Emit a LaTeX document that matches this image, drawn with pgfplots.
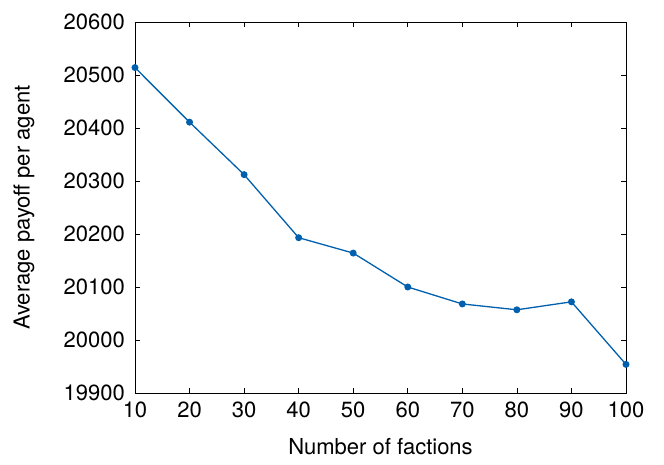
\documentclass[border=0pt]{standalone}
\usepackage{pgfplots}
\pgfplotsset{compat=1.18}
\usepackage{fontspec}
\setmainfont{TeX Gyre Heros}
\definecolor{gpblue}{RGB}{0,96,173}
\begin{document}
\begin{tikzpicture}
\useasboundingbox (-135pt,-72pt) rectangle (529pt,393pt);
\begin{axis}[
  at={(0,0)}, anchor=south west,
  scale only axis, width=491pt, height=371pt,
  xmin=10, xmax=100, ymin=19900, ymax=20600,
  xtick={10,20,...,100}, ytick={19900,20000,...,20600},
  scaled ticks=false,
  tick align=inside, major tick length=5pt,
  tick style={black, line width=0.6pt},
  axis line style={line width=0.8pt},
  /pgf/number format/assume math mode=true,
  /pgf/number format/set thousands separator={},
  /pgf/number format/fixed,
  font=\fontsize{22}{26}\selectfont,
  xticklabel style={inner sep=0pt, yshift=-9pt},
  yticklabel style={inner sep=0pt, xshift=-10pt},
  xlabel={Number of factions},
  ylabel={Average payoff per agent},
  every axis x label/.style={at={(axis description cs:0.5,0)}, yshift=-54pt, anchor=center},
  every axis y label/.style={at={(axis description cs:0,0.5)}, xshift=-111pt, rotate=90, anchor=center},
]
\addplot[color=gpblue, line width=1.3pt, mark=*, mark size=2.8pt] coordinates {
(10,20514) (20,20411) (30,20312) (40,20193) (50,20164) (60,20100) (70,20068) (80,20057) (90,20072) (100,19954)
};
\end{axis}
\end{tikzpicture}
\end{document}
